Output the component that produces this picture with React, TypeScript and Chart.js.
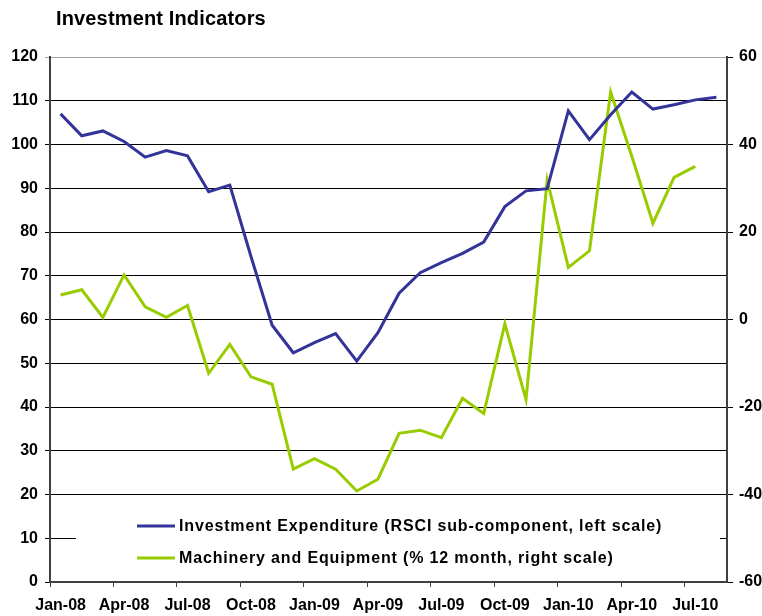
import React, { useEffect, useRef } from "react";
import { Chart, registerables } from "chart.js";

Chart.register(...registerables);

const months = [
  "Jan-08", "Feb-08", "Mar-08", "Apr-08", "May-08", "Jun-08", "Jul-08", "Aug-08", "Sep-08", "Oct-08", "Nov-08", "Dec-08",
  "Jan-09", "Feb-09", "Mar-09", "Apr-09", "May-09", "Jun-09", "Jul-09", "Aug-09", "Sep-09", "Oct-09", "Nov-09", "Dec-09",
  "Jan-10", "Feb-10", "Mar-10", "Apr-10", "May-10", "Jun-10", "Jul-10", "Aug-10",
];

const investment = [
  107.0, 102.0, 103.1, 100.7, 97.1, 98.6, 97.4, 89.2, 90.7, 74.4, 58.7, 52.4,
  54.7, 56.8, 50.5, 57.0, 66.0, 70.7, 73.0, 75.1, 77.7, 85.8, 89.4, 89.9,
  107.7, 101.1, 106.8, 112.0, 108.1, 109.1, 110.2, 110.8,
];

const machinery = [
  5.6, 6.8, 0.5, 10.2, 2.9, 0.5, 3.2, -12.3, -5.7, -13.1, -14.8, -34.2,
  -31.8, -34.2, -39.2, -36.5, -26.0, -25.3, -27.0, -18.0, -21.5, -1.0, -18.3, 31.9,
  11.9, 15.7, 52.0, 37.3, 22.0, 32.5, 35.0, null,
];

const title = "Investment Indicators";
const seriesNames = [
  "Investment Expenditure (RSCI sub-component, left scale)",
  "Machinery and Equipment (% 12 month, right scale)",
];

const FONT = "'Liberation Sans', Arial, sans-serif";

const overlayPlugin = {
  id: "overlay",
  beforeDatasetsDraw(chart: any) {
    const ctx = chart.ctx;
    const area = chart.chartArea;
    ctx.save();
    ctx.fillStyle = "#ffffff";
    ctx.fillRect(area.left + 26, 506, area.right - area.left - 33, 70);
    const rows = [526, 558];
    chart.data.datasets.forEach((ds: any, i: number) => {
      const y = rows[i];
      ctx.strokeStyle = ds.borderColor;
      ctx.lineWidth = 3;
      ctx.beginPath();
      ctx.moveTo(137, y);
      ctx.lineTo(175, y);
      ctx.stroke();
      ctx.fillStyle = "#000";
      ctx.font = `bold 16px ${FONT}`;
      (ctx as any).letterSpacing = "0.85px";
      ctx.textBaseline = "middle";
      ctx.textAlign = "left";
      ctx.fillText(ds.label, 179, y + 1);
    });
    ctx.restore();
  },
  afterDraw(chart: any) {
    const ctx = chart.ctx;
    ctx.save();
    ctx.fillStyle = "#000";
    ctx.font = `bold 20px ${FONT}`;
    (ctx as any).letterSpacing = "0.15px";
    ctx.textBaseline = "middle";
    ctx.textAlign = "left";
    ctx.fillText(title, 56, 19);
    ctx.restore();
  },
};

export default function App() {
  const ref = useRef<HTMLCanvasElement | null>(null);
  useEffect(() => {
    if (!ref.current) return;
    const chart = new Chart(ref.current, {
      type: "line",
      data: {
        labels: months,
        datasets: [
          {
            label: seriesNames[0],
            data: investment,
            borderColor: "#333399",
            backgroundColor: "#333399",
            borderWidth: 3,
            pointRadius: 0,
            tension: 0,
            yAxisID: "y",
          },
          {
            label: seriesNames[1],
            data: machinery,
            borderColor: "#99CC00",
            backgroundColor: "#99CC00",
            borderWidth: 3,
            pointRadius: 0,
            tension: 0,
            yAxisID: "y1",
          },
        ],
      },
      plugins: [overlayPlugin],
      options: {
        animation: false,
        responsive: false,
        devicePixelRatio: 1,
        layout: { padding: { left: 0, right: 0, top: 57, bottom: 0 } },
        plugins: {
          legend: { display: false },
          title: { display: false },
          tooltip: { enabled: false },
        },
        scales: {
          x: {
            type: "category",
            offset: true,
            afterFit: (s: any) => { s.height = 34; },
            grid: {
              offset: true,
              drawOnChartArea: false,
              drawTicks: true,
              tickLength: 5,
              color: (c: any) => (c.index % 3 === 0 ? "#404040" : "rgba(0,0,0,0)"),
            },
            border: { color: "#404040", width: 2 },
            ticks: {
              autoSkip: false,
              maxRotation: 0,
              padding: 9,
              color: "#000",
              font: { family: FONT, size: 16, weight: "bold" },
              callback: (_v: any, i: number) => (i % 3 === 0 ? months[i] : ""),
            },
          },
          y: {
            position: "left",
            min: 0,
            max: 120,
            afterFit: (s: any) => { s.width = 50; },
            ticks: {
              stepSize: 10,
              padding: 7,
              color: "#000",
              font: { family: FONT, size: 16, weight: "bold" },
            },
            grid: {
              drawTicks: true,
              tickLength: 5,
              lineWidth: 1,
              color: (c: any) => (c.tick && c.tick.value === 120 ? "#a0a0a0" : "#000000"),
            },
            border: { color: "#404040", width: 2 },
          },
          y1: {
            position: "right",
            min: -60,
            max: 60,
            afterFit: (s: any) => { s.width = 35; },
            ticks: {
              stepSize: 20,
              padding: 6,
              color: "#000",
              font: { family: FONT, size: 16, weight: "bold" },
            },
            grid: {
              drawOnChartArea: false,
              drawTicks: true,
              tickLength: 6,
              color: "#000",
            },
            border: { color: "#404040", width: 2 },
          },
        },
      },
    } as any);
    return () => chart.destroy();
  }, []);
  return (
    <div style={{ position: "fixed", left: 0, top: 0, width: 762, height: 616, background: "#fff" }}>
      <canvas ref={ref} width={762} height={616} style={{ display: "block" }} />
    </div>
  );
}
